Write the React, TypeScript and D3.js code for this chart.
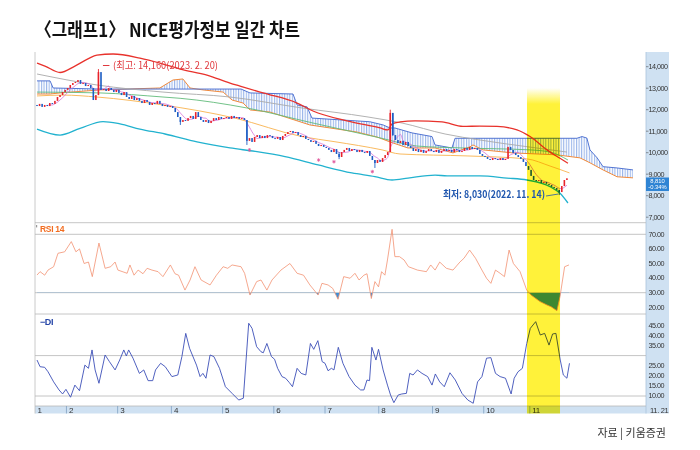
import * as d3 from "d3";

// ---- data ----
const monthLabels = ["1", "2", "3", "4", "5", "6", "7", "8", "9", "10", "11"];
const monthStarts = [0, 12, 32, 53, 73, 93, 113, 134, 155, 175, 193];
const lastDateLabel = "11. 21";
const totalSlots = 236; // trading days incl. 26 days of leading cloud

const firstOpen = 12220;
const closes = [
  // Jan
  12170, 12270, 12130, 12220, 12170, 12310, 12270, 12410, 12590, 12680, 12820, 12920,
  // Feb
  13010, 13150, 13240, 13290, 13380, 13200, 13240, 13100, 13150, 13010, 12450, 12680, 13750, 12920,
  12960, 12870, 13010, 12920, 12820, 12920,
  // Mar
  12780, 12680, 12820, 12590, 12500, 12640, 12450, 12540, 12410, 12310, 12450, 12360, 12220, 12310,
  12270, 12410, 12270, 12170, 12220, 12130, 12170,
  // Apr
  12080, 11890, 11660, 11430, 11520, 11480, 11610, 11710, 11570, 11890, 11660, 11520, 11430, 11520,
  11380, 11480, 11610, 11520, 11660, 11570,
  // May
  11610, 11660, 11570, 11710, 11610, 11660, 11570, 11610, 11520, 10550, 10680, 10500, 10730, 10820,
  10680, 10780, 10680, 10820, 10780, 10680,
  // Jun
  10640, 10730, 10590, 10780, 10870, 10960, 11010, 10920, 10960, 10820, 10730, 10780, 10640, 10590,
  10500, 10550, 10410, 10310, 10360, 10270,
  // Jul
  10220, 10130, 10030, 10170, 9940, 9800, 10030, 10130, 10220, 10080, 10170, 10130, 10030, 10130,
  10030, 9990, 10080, 9850, 9660, 9520, 9660,
  // Aug
  9570, 9750, 9890, 10030, 11850, 10820, 10590, 10450, 10550, 10360, 10500, 10310, 10220, 10080,
  10170, 10030, 10130, 9990, 10080, 10170, 10080,
  // Sep
  10030, 10130, 9990, 10080, 10170, 10080, 10130, 10030, 10170, 10130, 10030, 10080, 10220, 10130,
  10270, 10170, 10220, 10130, 9940, 9850,
  // Oct
  9800, 9710, 9660, 9750, 9710, 9660, 9750, 9660, 9710, 10270, 10130, 9990, 9890, 9800, 9710, 9570,
  9380, 9200,
  // Nov
  8920, 8730, 8690, 8730, 8590, 8640, 8550, 8500, 8410, 8360, 8270, 8170, 8450, 8730, 8810,
];

// [day, high, low]
const wicks = [
  [24, 13890, 12680],
  [56, 11520, 11290],
  [82, 11520, 10360],
  [118, 10030, 9700],
  [132, 9660, 9290],
  [138, 12000, 10030],
  [139, 11850, 10780],
  [204, 8270, 8030],
];

const markers = [
  [83, 10130],
  [110, 9660],
  [116, 9580],
  [131, 9120],
];

const bbUpper = [
  [0, 14170], [3.1, 14030], [9, 13730], [14.8, 14030], [19.9, 14360], [23.4, 14540], [29.7, 14590],
  [40.2, 14400], [48, 14170], [55.9, 13890], [66.4, 13610], [75.4, 13240], [79.3, 13100],
  [88.3, 12780], [101.6, 12310], [107.8, 11940], [121.1, 11480], [134, 11150], [137.1, 11060],
  [138.7, 11340], [141.8, 11430], [147.7, 11480], [158.2, 11430], [166.4, 11220], [173, 11240],
  [179.7, 11220], [187.5, 11060], [192.6, 10750], [199.2, 10130], [204.3, 9740], [207.4, 9510],
];

const bbLower = [
  [0, 11100], [9, 10820], [16.8, 11130], [25.8, 11450], [32.4, 11340], [40.2, 11100], [50, 10870],
  [62.5, 10500], [75.4, 10220], [85.2, 10060], [96.9, 9820], [109.8, 9430], [123, 9060],
  [132, 8890], [138.7, 8730], [144.9, 8820], [155.5, 8960], [160.2, 8920], [173, 8920],
  [183.6, 8820], [191.4, 8730], [200.4, 8420], [204.3, 8110], [207.4, 7660],
];

const maLong = [
  [0, 13660], [23.4, 13150], [49.2, 12820], [75.4, 12590], [103.5, 12080], [129.3, 11660],
  [142.6, 11380], [159.4, 10870], [173, 10590], [192.6, 10260], [207, 10030],
];

const maMid = [
  [0, 12820], [24.6, 12780], [49.2, 12590], [55.9, 12530], [82, 12080], [107.8, 11380],
  [134, 10690], [148.4, 10310], [166.4, 10220], [192.6, 10130], [200.4, 10030], [207.4, 9660],
];

const maShortish = [
  [0, 12640], [10.2, 12680], [23.4, 12590], [49.2, 12220], [77.3, 11610], [103.5, 10750],
  [116.4, 10510], [134.8, 10130], [141.8, 9940], [168, 9850], [191.4, 9710], [200.4, 9380],
  [208, 9060],
];

const cloudSpan1 = [
  [0, 13340], [5.1, 13340], [6.3, 13010], [24.6, 12960], [48, 12960], [79.7, 12960], [83.2, 12780],
  [100, 12730], [101.6, 12220], [105.5, 12130], [107.4, 11610], [130, 11440], [135.2, 11290],
  [137.9, 11150], [139.8, 11150], [146.5, 10920], [154.3, 10750], [155.5, 10360], [162.1, 10220],
  [163.3, 10670], [210.9, 10670], [212.9, 10750], [214.8, 10680], [216, 10130], [218.8, 9760],
  [221.1, 9350], [226.6, 9290], [232.8, 9200],
];

const cloudSpan2 = [
  [0, 12730], [5.1, 12730], [9, 12780], [24.6, 12920], [48, 13010], [53.1, 13380], [57, 13430],
  [59.8, 13010], [64.8, 12920], [72.7, 12820], [76.2, 12450], [80.5, 12310], [83.2, 11990],
  [91, 11890], [106.6, 11290], [114.5, 11150], [125, 10960], [132.8, 10730], [137.9, 10500],
  [144.9, 10220], [155.5, 10220], [162.5, 9990], [169.1, 10270], [170.3, 10360], [174.2, 10130],
  [185.9, 9990], [203.1, 9900], [212.1, 9760], [216, 9530], [221.1, 9200], [226.6, 8880],
  [232.8, 8830],
];

const rsi = [
  [0, 42.1], [1.2, 44.4], [3, 42], [4.3, 45.5], [6.5, 47.8], [8.2, 57], [10.8, 58], [13.4, 65],
  [15.2, 58], [16.6, 60], [18.4, 50], [20.1, 51], [21.6, 41], [24.2, 64], [26.6, 46.7], [28.8, 47.8],
  [30.5, 51], [31.6, 45.5], [35.2, 43.3], [36.3, 49], [37.9, 42], [39.5, 45.5], [41.4, 43],
  [43, 46.7], [44.9, 45.5], [47.3, 44.4], [49.2, 41], [52.1, 49], [53.9, 43], [55.3, 42],
  [57.8, 31.8], [59.8, 38.7], [61.7, 47.8], [64.1, 38.7], [67.6, 35.3], [70.1, 42], [72.7, 47.8],
  [74.5, 46.7], [76.2, 49], [79.7, 47.8], [81.1, 43.3], [83.2, 28.4], [85.8, 37.6], [87.5, 38.7],
  [89.8, 31.8], [91.8, 38.7], [95.3, 45.5], [98.8, 50], [101.6, 43.3], [104.1, 42], [106.6, 35.3],
  [109.8, 28.4], [111.3, 36.4], [113.7, 35.3], [115.5, 33], [117.6, 25.5], [119.8, 41],
  [122.3, 39.9], [124.2, 43.3], [125.8, 38.7], [127.7, 42], [128.9, 43], [130.6, 26], [132, 37.6],
  [133.4, 34], [134.6, 44.4], [135.9, 42], [136.9, 52.4], [138.7, 73.4], [139.8, 54.7],
  [141.6, 54.7], [143.4, 52.4], [145.1, 47.8], [148.6, 45.5], [152.1, 44.4], [153.8, 49],
  [155.5, 45.5], [157.3, 51], [159.9, 46.7], [162.5, 45.5], [165.2, 51], [166.8, 53.6], [169, 59.2],
  [171.3, 53.6], [173.8, 45.5], [175.6, 39.9], [177.3, 36.4], [179.1, 45.5], [180.9, 43.3],
  [182.6, 41], [184.4, 59.2], [186.1, 50], [188.7, 44.4], [191.3, 31.8], [193, 28.4], [196.5, 23.9],
  [199.2, 21.6], [200.8, 20.4], [203.1, 17.7], [204.3, 27.3], [206.1, 47.8], [207.8, 49],
];

const minusDi = [
  [0, 27.8], [1.2, 24.5], [3, 24.2], [4.3, 22], [6.5, 17], [8.6, 13], [10, 11], [11.3, 13.3],
  [13.1, 9.4], [14.8, 15.4], [16.6, 12.6], [18.7, 25.3], [20.1, 23.7], [21.5, 32.8], [22.7, 22.9],
  [24.2, 16.3], [26.6, 30.3], [28.3, 27], [30.5, 22.9], [32.3, 27.8], [33.9, 32.8], [34.9, 29.8],
  [35.8, 32.8], [37.5, 28.7], [40, 21.2], [41.7, 22.9], [43.4, 17.6], [45.2, 17.6], [46.3, 22.9],
  [48.3, 26.2], [50.1, 24.5], [52.7, 19.6], [55, 20.4], [56.6, 29.5], [58.1, 41], [59.6, 33.6],
  [62.3, 25.3], [63.7, 19.6], [64.8, 21.2], [66, 18.8], [67.6, 30.3], [69.1, 29.5], [71.3, 23.7],
  [73.6, 14.6], [76.2, 11.3], [78.8, 8], [80.6, 8.9], [82.7, 46], [84, 43.5], [85.8, 34.4],
  [87.5, 31.9], [88.4, 31.4], [89.8, 36], [91.6, 29.5], [92.8, 28.2], [94, 23.7], [95.7, 19.6],
  [97.1, 18.8], [98.6, 16.6], [99.8, 14.6], [101.6, 23.7], [103.2, 21.2], [105, 20.4], [106.8, 36],
  [108.1, 33.1], [109.7, 37.4], [111.4, 27], [112.5, 26.2], [113.7, 22.5], [115, 23.7], [116, 22.9],
  [117.7, 34.1], [119.5, 26.2], [121.9, 19.6], [124.2, 15.4], [126.4, 13], [127.7, 13],
  [128.9, 17.9], [129.9, 17.6], [130.8, 34.1], [132.4, 27.8], [133.4, 33.1], [135.2, 22.9],
  [136.9, 15.4], [138.1, 10.5], [139.4, 6.7], [141.1, 10.5], [142.5, 11], [144.3, 11.3],
  [145.6, 21.2], [146.9, 20.4], [148.6, 22.9], [150.4, 21.2], [152.6, 19.6], [154.3, 15.4],
  [155.6, 20.9], [157.3, 17], [159.1, 14.6], [161.3, 21.5], [163.4, 17.9], [166, 11.3], [168.3, 8],
  [170.4, 6.4], [172.1, 17], [173.8, 19.6], [175.6, 28.7], [177.3, 29], [179.1, 21.2],
  [180.9, 19.6], [183, 18.8], [185.2, 11], [186.4, 18.8], [187.9, 22], [189.6, 23.7], [191.3, 36],
  [192.7, 43.5], [194.8, 46.8], [196.6, 40.2], [198.3, 41], [200, 35.2], [201.4, 40.7],
  [202.7, 41], [204.4, 27.8], [205.6, 20.4], [207, 18.8], [208, 26.2],
];

const priceTicks = [14000, 13000, 12000, 11000, 10000, 9000, 8000, 7000];
const rsiTicks = [70, 60, 50, 40, 30, 20];
const rsiGrid = [70, 30];
const diTicks = [45, 40, 35, 25, 20, 15, 10];
const diGrid = [30, 10];
const highlightDays = [191.4, 204.3];
const lastChange = "-0.34%";

const title = "〈그래프1〉 NICE평가정보 일간 차트";
const highNote = "(최고: 14,160(2023. 2. 20)";
const lowNote = "최저: 8,030(2022. 11. 14)";
const source = "자료 | 키움증권";

// ---- layout ----
const LEFT = 35;
const RIGHT = 646;
const AXIS_R = 669;
const TOP = 52;
const PRICE_B = 222.7;
const RSI_B = 314;
const DI_B = 406;
const AXIS_B = 413.5;
const AX_FONT = "'Liberation Sans', Arial, sans-serif";
const KR_FONT = "'Noto Sans CJK KR', 'Noto Sans', sans-serif";

export default function App() {
  const x = d3.scaleLinear().domain([0, totalSlots]).range([37, 641.16]);
  const yP = d3.scaleLinear().domain([7000, 14000]).range([217.2, 66.7]);
  const yR = d3.scaleLinear().domain([30, 70]).range([292.7, 234.3]);
  const yD = d3.scaleLinear().domain([10, 30]).range([396, 355.6]);

  const priceLine = (curve = d3.curveMonotoneX) =>
    d3
      .line<number[]>()
      .x((d) => x(d[0]))
      .y((d) => yP(d[1]))
      .curve(curve);

  const cloudPoly =
    d3
      .line<number[]>()
      .x((d) => x(d[0]))
      .y((d) => yP(d[1]))(cloudSpan1.concat(cloudSpan2.slice().reverse())) + "Z";

  const ma5 = closes.map((c, i) =>
    i < 4 ? null : [i, d3.mean(closes.slice(i - 4, i + 1)) as number]
  );
  const ma5Path = d3
    .line<number[] | null>()
    .defined((d) => d !== null)
    .x((d) => x((d as number[])[0]))
    .y((d) => yP((d as number[])[1]))
    .curve(d3.curveMonotoneX)(ma5);

  const rsiLine = d3
    .line<number[]>()
    .x((d) => x(d[0]))
    .y((d) => yR(d[1]))(rsi);
  const rsiArea = d3
    .area<number[]>()
    .x((d) => x(d[0]))
    .y0(yR(30))
    .y1((d) => yR(d[1]))(rsi);
  const diLine = d3
    .line<number[]>()
    .x((d) => x(d[0]))
    .y((d) => yD(d[1]))(minusDi);

  const candles = closes.map((c, i) => {
    const o = i === 0 ? firstOpen : closes[i - 1];
    const up = c >= o;
    const y0 = yP(Math.max(o, c));
    const y1 = yP(Math.min(o, c));
    return (
      <rect
        key={i}
        x={x(i) - 0.8}
        y={y0}
        width={1.6}
        height={Math.max(1, y1 - y0)}
        fill={up ? "#e8232b" : "#1c5cc4"}
      />
    );
  });

  const wickLines = wicks.map(([d, hi, lo], i) => {
    const o = d === 0 ? firstOpen : closes[d - 1];
    const up = closes[d] >= o;
    return (
      <line
        key={i}
        x1={x(d)}
        x2={x(d)}
        y1={yP(hi)}
        y2={yP(lo)}
        stroke={up ? "#e8232b" : "#1c5cc4"}
        strokeWidth={0.9}
      />
    );
  });

  const lastClose = closes[closes.length - 1];
  const hx0 = x(highlightDays[0]);
  const hx1 = x(highlightDays[1]);
  const boxTop = yP(lastClose) - 0.8;

  return (
    <div style={{ position: "absolute", left: 0, top: 0 }}>
      <svg width={700} height={450} style={{ display: "block", background: "#fff" }}>
        <defs>
          <pattern id="hatch" width={2.56} height={8} patternUnits="userSpaceOnUse">
            <line x1={0.6} x2={0.6} y1={0} y2={8} stroke="#86a6e6" strokeWidth={0.9} />
          </pattern>
          <clipPath id="priceClip">
            <rect x={LEFT} y={TOP} width={RIGHT - LEFT} height={PRICE_B - TOP} />
          </clipPath>
          <clipPath id="rsiLow">
            <rect x={LEFT} y={yR(30)} width={RIGHT - LEFT} height={RSI_B - yR(30)} />
          </clipPath>
          <linearGradient id="yel" x1="0" x2="0" y1={88} y2={104} gradientUnits="userSpaceOnUse">
            <stop offset="0" stopColor="#fff23a" stopOpacity={0} />
            <stop offset="1" stopColor="#fff23a" stopOpacity={1} />
          </linearGradient>
        </defs>

        <text
          x={35}
          y={37}
          fontFamily={KR_FONT}
          fontWeight={700}
          fontSize={19}
          textLength={265}
          lengthAdjust="spacingAndGlyphs"
          fill="#111"
        >
          {title}
        </text>

        {/* axis column and date band */}
        <rect x={RIGHT} y={TOP} width={AXIS_R - RIGHT} height={AXIS_B - TOP} fill="#cfe1f2" />
        <rect x={LEFT} y={DI_B} width={RIGHT - LEFT} height={AXIS_B - DI_B} fill="#cfe1f2" />
        <line x1={RIGHT} x2={RIGHT} y1={TOP} y2={AXIS_B} stroke="#a9c3dc" strokeWidth={0.8} />
        <line x1={LEFT} x2={LEFT} y1={TOP} y2={AXIS_B} stroke="#bdbdbd" strokeWidth={0.8} />

        {/* panel separators and grid */}
        {[PRICE_B, RSI_B, DI_B].map((y, i) => (
          <line key={i} x1={LEFT} x2={RIGHT} y1={y} y2={y} stroke="#b8b8b8" strokeWidth={0.8} />
        ))}
        {rsiGrid.map((v) => (
          <line key={"r" + v} x1={LEFT} x2={RIGHT} y1={yR(v)} y2={yR(v)} stroke="#b5b5b5" strokeWidth={0.8} />
        ))}
        {diGrid.map((v) => (
          <line key={"d" + v} x1={LEFT} x2={RIGHT} y1={yD(v)} y2={yD(v)} stroke="#b5b5b5" strokeWidth={0.8} />
        ))}

        {/* price panel */}
        <g clipPath="url(#priceClip)">
          <path d={cloudPoly} fill="url(#hatch)" stroke="none" />
          <path d={priceLine(d3.curveLinear)(cloudSpan2) as string} fill="none" stroke="#f08a3c" strokeWidth={1} />
          <path d={priceLine(d3.curveLinear)(cloudSpan1) as string} fill="none" stroke="#5274d2" strokeWidth={1} />
          <path d={priceLine()(maLong) as string} fill="none" stroke="#a9a9a9" strokeWidth={0.9} />
          <path d={priceLine()(maMid) as string} fill="none" stroke="#62bb7a" strokeWidth={0.9} />
          <path d={priceLine()(maShortish) as string} fill="none" stroke="#f8b24e" strokeWidth={0.9} />
          <path d={priceLine()(bbUpper) as string} fill="none" stroke="#e8322c" strokeWidth={1.3} />
          <path d={priceLine()(bbLower) as string} fill="none" stroke="#22b2cf" strokeWidth={1.3} />
          <path d={ma5Path as string} fill="none" stroke="#d872d8" strokeWidth={0.8} />
          {wickLines}
          {candles}
          {markers.map(([d, v], i) => (
            <g key={i} stroke="#e0559b" strokeWidth={0.8}>
              <line x1={x(d) - 1.6} x2={x(d) + 1.6} y1={yP(v)} y2={yP(v)} />
              <line x1={x(d)} x2={x(d)} y1={yP(v) - 1.8} y2={yP(v) + 1.8} />
              <line x1={x(d) - 1.2} x2={x(d) + 1.2} y1={yP(v) - 1.2} y2={yP(v) + 1.2} />
              <line x1={x(d) - 1.2} x2={x(d) + 1.2} y1={yP(v) + 1.2} y2={yP(v) - 1.2} />
            </g>
          ))}
        </g>

        {/* RSI panel */}
        <path d={rsiArea as string} fill="#3d8fd8" clipPath="url(#rsiLow)" />
        <path d={rsiLine as string} fill="none" stroke="#f39272" strokeWidth={0.8} />
        <rect x={36} y={225} width={1.2} height={2.4} fill="#999" />
        <text x={40} y={231.5} fontFamily={AX_FONT} fontWeight={700} fontSize={8.5} fill="#f26d21" letterSpacing={-0.3}>
          RSI 14
        </text>

        {/* DI panel */}
        <path d={diLine as string} fill="none" stroke="#3c4fb8" strokeWidth={0.9} />
        <text x={40} y={325} fontFamily={AX_FONT} fontWeight={700} fontSize={9} fill="#2646a8" letterSpacing={-0.4}>
          −DI
        </text>

        {/* month band */}
        {monthStarts.map((s, i) => {
          const bx = i === 0 ? LEFT : x(s - 0.5);
          return (
            <g key={i}>
              {i > 0 && <line x1={bx} x2={bx} y1={DI_B} y2={AXIS_B} stroke="#7f9fc2" strokeWidth={0.8} />}
              <text x={bx + 2.5} y={412.5} fontFamily={AX_FONT} fontSize={8} fill="#333" letterSpacing={-0.3}>
                {monthLabels[i]}
              </text>
            </g>
          );
        })}

        {/* highlight */}
        <rect
          x={hx0}
          y={88}
          width={hx1 - hx0}
          height={AXIS_B - 88}
          fill="url(#yel)"
          style={{ mixBlendMode: "multiply" }}
        />

        {/* annotations */}
        <line x1={x(24) + 4.5} x2={x(24) + 11} y1={65.5} y2={65.5} stroke="#e0393e" strokeWidth={1} />
        <text
          x={113}
          y={69}
          fontFamily={KR_FONT}
          fontSize={10}
          fill="#e0393e"
          textLength={105}
          lengthAdjust="spacingAndGlyphs"
        >
          {highNote}
        </text>
        <text
          x={443}
          y={198}
          fontFamily={KR_FONT}
          fontSize={10}
          fontWeight={700}
          fill="#1f56ae"
          textLength={102}
          lengthAdjust="spacingAndGlyphs"
        >
          {lowNote}
        </text>
        <line x1={546} x2={x(204) - 1} y1={196} y2={yP(8030) - 1} stroke="#1f56ae" strokeWidth={0.8} />

        {/* right axis labels */}
        {priceTicks.map((v) => (
          <g key={v}>
            <line x1={RIGHT} x2={RIGHT + 2.5} y1={yP(v)} y2={yP(v)} stroke="#555" strokeWidth={0.6} />
            <text x={648.5} y={yP(v)} dy="0.33em" fontFamily={AX_FONT} fontSize={7.2} fill="#333" letterSpacing={-0.5}>
              {d3.format(",")(v)}
            </text>
          </g>
        ))}
        <rect x={RIGHT} y={boxTop} width={AXIS_R - RIGHT} height={13.5} fill="#2f84d4" />
        <text x={657.5} y={boxTop + 5.6} textAnchor="middle" fontFamily={AX_FONT} fontSize={5.8} fill="#fff">
          {d3.format(",")(lastClose)}
        </text>
        <text x={657.5} y={boxTop + 11.6} textAnchor="middle" fontFamily={AX_FONT} fontSize={5.8} fill="#fff">
          {lastChange}
        </text>
        {rsiTicks.map((v) => (
          <text key={v} x={648.5} y={yR(v)} dy="0.33em" fontFamily={AX_FONT} fontSize={7.2} fill="#333" letterSpacing={-0.5}>
            {d3.format(".2f")(v)}
          </text>
        ))}
        {diTicks.map((v) => (
          <text key={v} x={648.5} y={yD(v)} dy="0.33em" fontFamily={AX_FONT} fontSize={7.2} fill="#333" letterSpacing={-0.5}>
            {d3.format(".2f")(v)}
          </text>
        ))}
        <text x={650} y={412.5} fontFamily={AX_FONT} fontSize={7.5} fill="#333" letterSpacing={-0.3}>
          {lastDateLabel}
        </text>

        <text x={666} y={437} textAnchor="end" fontFamily={KR_FONT} fontSize={11} fill="#333">
          {source}
        </text>
      </svg>
    </div>
  );
}
